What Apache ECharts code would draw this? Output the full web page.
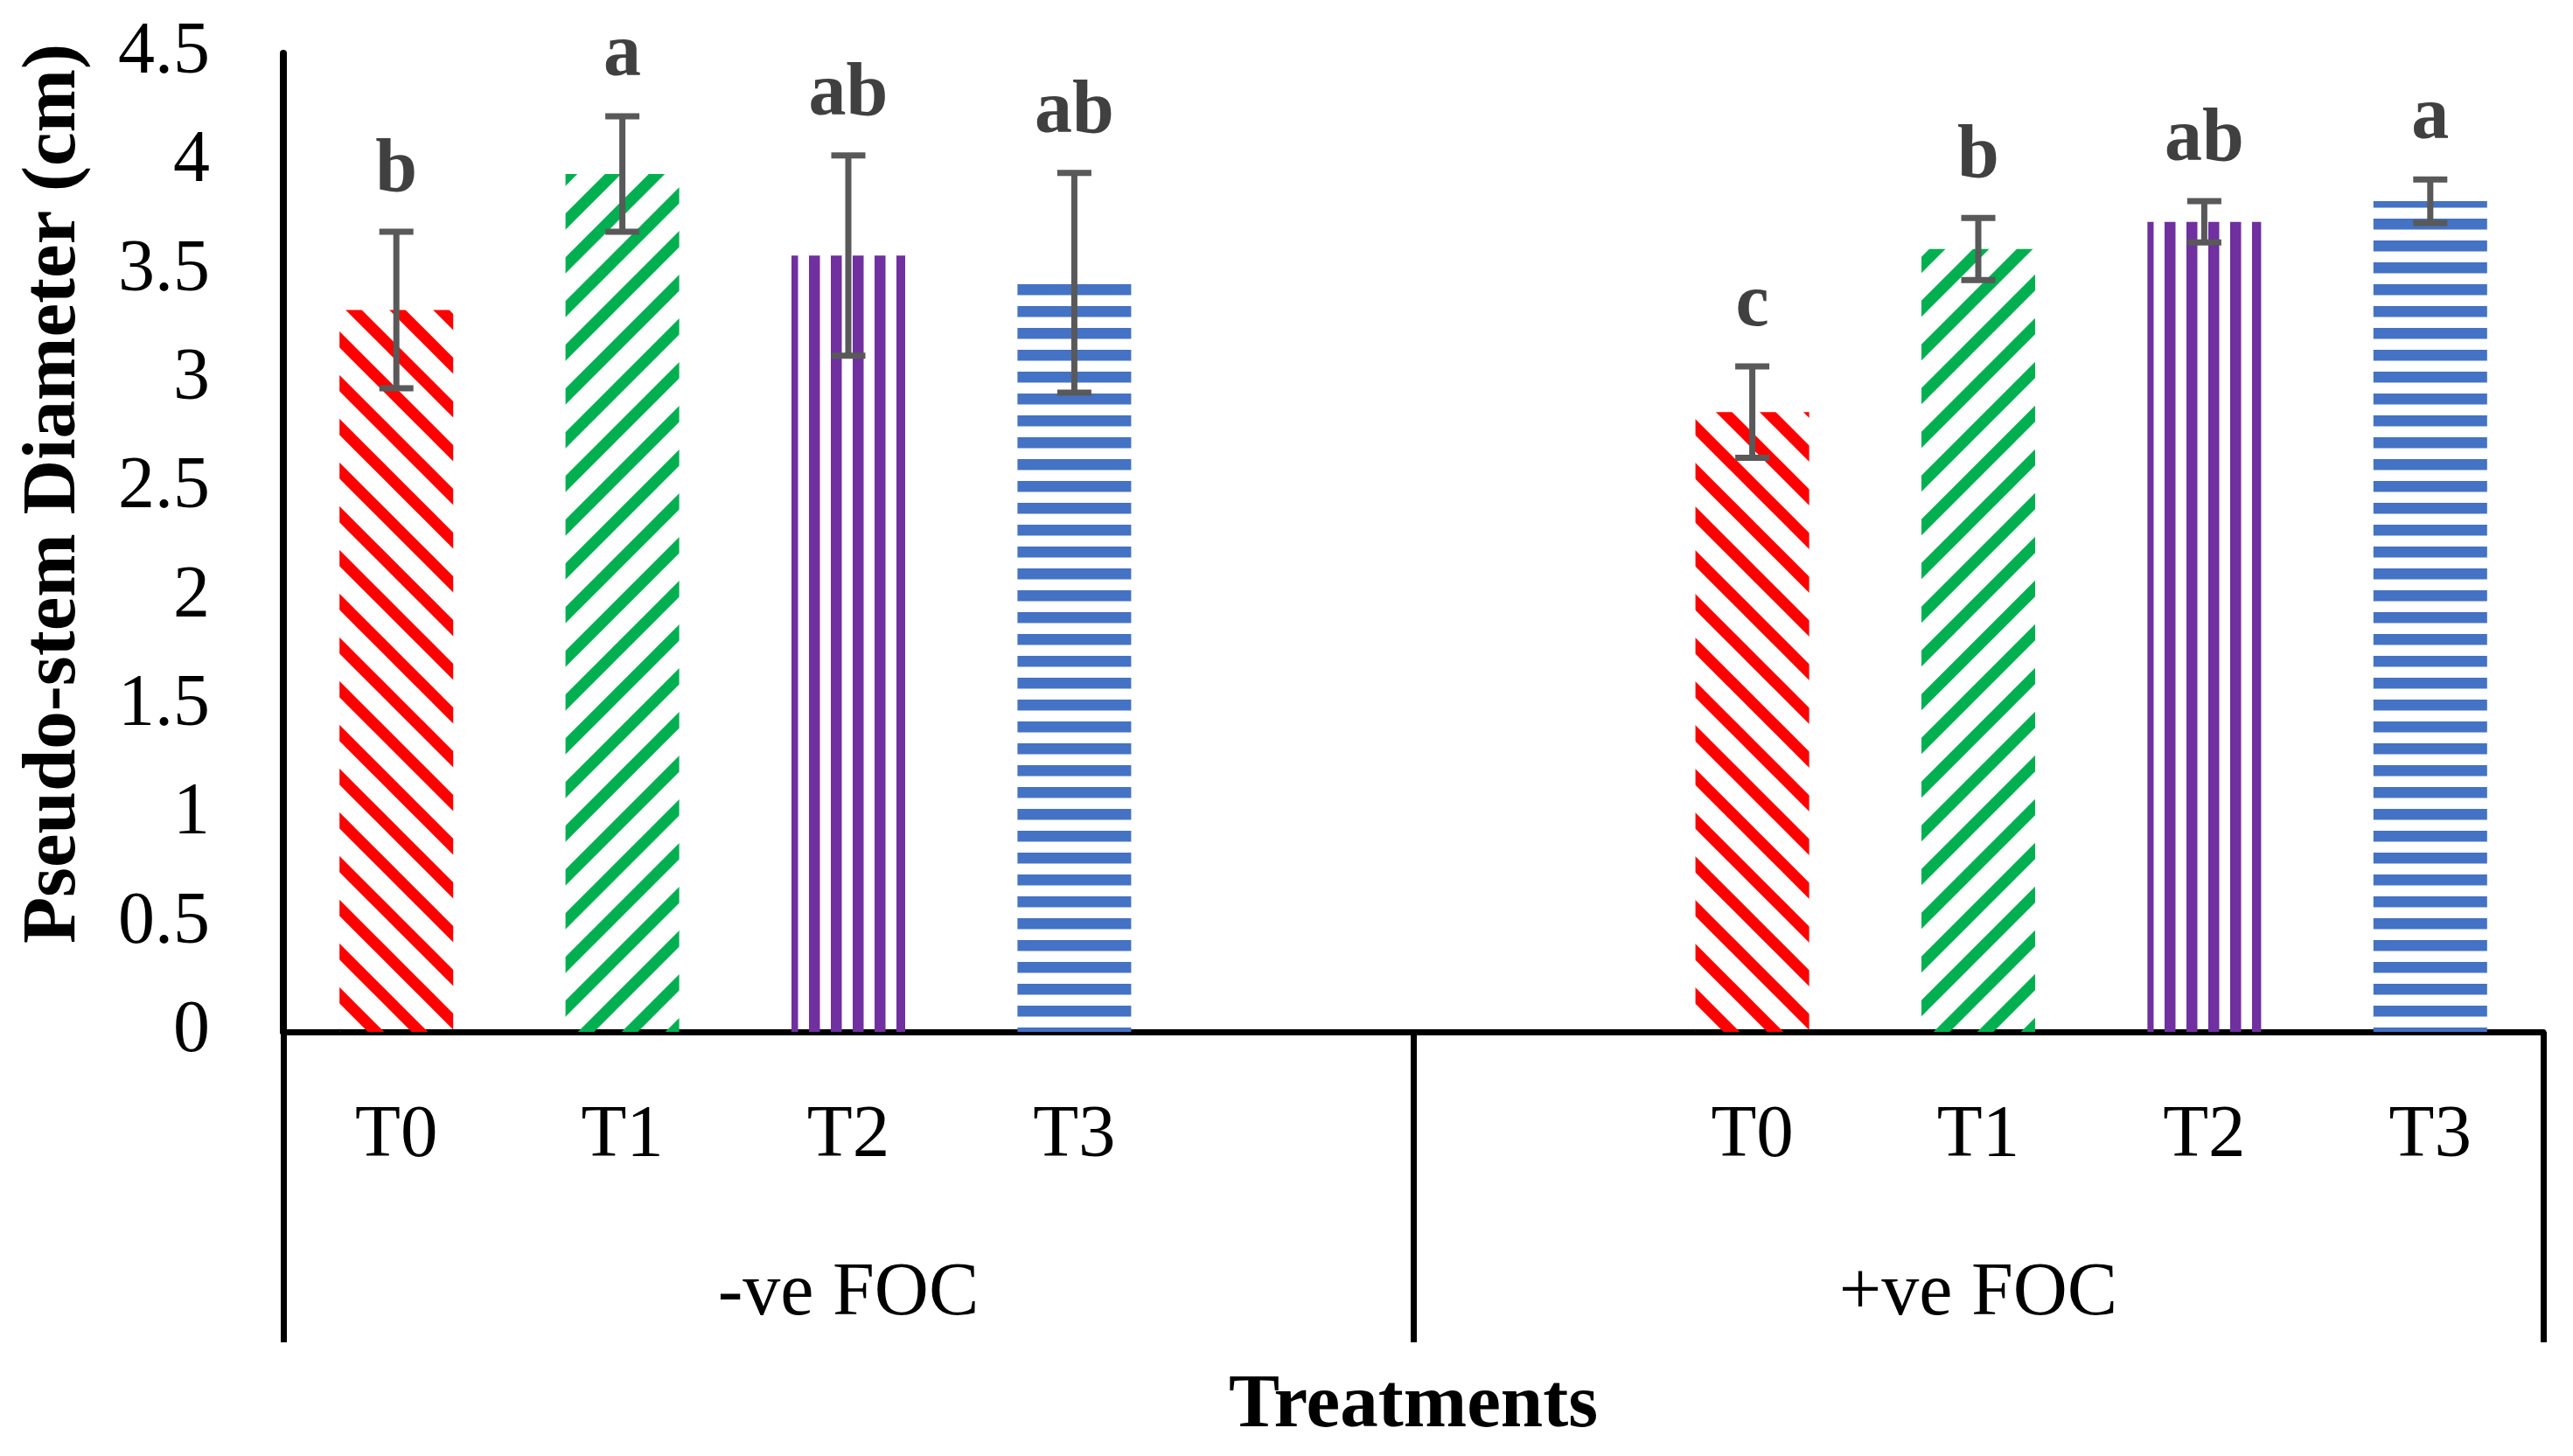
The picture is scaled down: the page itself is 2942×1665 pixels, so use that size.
<!DOCTYPE html>
<html>
<head>
<meta charset="utf-8">
<script src="https://cdn.jsdelivr.net/npm/echarts@6/dist/echarts.min.js"></script>
<style>
html,body{margin:0;padding:0;background:#fff;}
#chart{width:2942px;height:1665px;}
</style>
</head>
<body>
<div id="chart"></div>
<script>
// ---- data ----
const groups = ['-ve FOC', '+ve FOC'];
const treatments = ['T0', 'T1', 'T2', 'T3'];
const negMeans = [3.32, 3.945, 3.57, 3.445];
const negSE = [0.36, 0.265, 0.46, 0.505];
const negLetters = ['b', 'a', 'ab', 'ab'];
const posMeans = [2.85, 3.60, 3.725, 3.82];
const posSE = [0.21, 0.143, 0.095, 0.10];
const posLetters = ['c', 'b', 'ab', 'a'];
const yTicks = [0, 0.5, 1, 1.5, 2, 2.5, 3, 3.5, 4, 4.5];

// ---- patterns ----
const FONT = '"Liberation Serif", "Times New Roman", serif';
function makePattern(kind, color) {
  const c = document.createElement('canvas');
  let s;
  if (kind === 'down' || kind === 'up') {
    s = 50; c.width = s; c.height = s;
    const ctx = c.getContext('2d');
    ctx.strokeStyle = color; ctx.lineWidth = 13; ctx.lineCap = 'square';
    for (let k = -1; k <= 1; k++) {
      ctx.beginPath();
      if (kind === 'down') { ctx.moveTo(-20, -20 + k * s); ctx.lineTo(s + 20, s + 20 + k * s); }
      else { ctx.moveTo(-20, s + 20 + k * s); ctx.lineTo(s + 20, -20 + k * s); }
      ctx.stroke();
    }
  } else if (kind === 'vert') {
    s = 25; c.width = s; c.height = s;
    const ctx = c.getContext('2d');
    ctx.fillStyle = color; ctx.fillRect(0, 0, 12.5, s);
  } else {
    s = 25; c.width = s; c.height = s;
    const ctx = c.getContext('2d');
    ctx.fillStyle = color; ctx.fillRect(0, 0, s, 12.5);
  }
  return { image: c, repeat: 'repeat' };
}
const patterns = [
  makePattern('down', '#FF0000'),
  makePattern('up', '#00B050'),
  makePattern('vert', '#7030A0'),
  makePattern('horiz', '#4472C4')
];

// ---- build slots: 4 treatments + blank, blank + 4 treatments ----
const slots = [];
treatments.forEach((t, i) => slots.push({ label: t, mean: negMeans[i], se: negSE[i], letter: negLetters[i], ti: i }));
slots.push({ label: '' }); slots.push({ label: '' });
treatments.forEach((t, i) => slots.push({ label: t, mean: posMeans[i], se: posSE[i], letter: posLetters[i], ti: i }));

const barData = slots.map(s => s.mean == null ? '-' : { value: s.mean, itemStyle: { color: patterns[s.ti] } });
const errData = [];
const errLetters = [];
slots.forEach((s, i) => { if (s.mean != null) { errData.push([i, s.mean, s.se]); errLetters.push(s.letter); } });

const chart = echarts.init(document.getElementById('chart'), null, { renderer: 'canvas' });
chart.setOption({
  animation: false,
  backgroundColor: '#fff',
  grid: { left: 324, right: 34, top: 61, bottom: 485, containLabel: false },
  xAxis: [
    {
      type: 'category',
      data: slots.map(s => s.label),
      position: 'bottom',
      axisLine: { show: true, lineStyle: { color: '#000', width: 7 } },
      axisTick: { show: false },
      axisLabel: { interval: 0, fontFamily: FONT, fontSize: 85, color: '#000', margin: 77 },
      splitLine: { show: false }
    },
    {
      type: 'category',
      data: groups,
      position: 'bottom',
      axisLine: { show: false },
      axisTick: { show: true, length: 355, lineStyle: { color: '#000', width: 7 } },
      axisLabel: { interval: 0, fontFamily: FONT, fontSize: 86, color: '#000', margin: 257 },
      splitLine: { show: false },
      name: 'Treatments',
      nameLocation: 'middle',
      nameGap: 385,
      nameTextStyle: { fontFamily: FONT, fontSize: 87, fontWeight: 'bold', color: '#000' }
    }
  ],
  yAxis: {
    type: 'value',
    min: 0, max: 4.5, interval: 0.5,
    axisLine: { show: true, lineStyle: { color: '#000', width: 8 } },
    axisTick: { show: false },
    splitLine: { show: false },
    axisLabel: {
      fontFamily: FONT, fontSize: 84, color: '#000', margin: 84,
      formatter: v => String(yTicks.find(t => Math.abs(t - v) < 1e-9) ?? v)
    },
    name: 'Pseudo-stem Diameter (cm)',
    nameLocation: 'middle',
    nameGap: 218,
    nameTextStyle: { fontFamily: FONT, fontSize: 87, fontWeight: 'bold', color: '#000', padding: [0, 0, 0, 112] }
  },
  series: [
    {
      type: 'bar',
      xAxisIndex: 0,
      data: barData,
      barWidth: 130,
      silent: true
    },
    {
      type: 'custom',
      xAxisIndex: 0,
      data: errData,
      silent: true,
      z: 5,
      renderItem: function (params, api) {
        const x = api.value(0), m = api.value(1), s = api.value(2);
        const top = api.coord([x, m + s]);
        const bot = api.coord([x, m - s]);
        const cw = 19.5;
        const st = { stroke: '#595959', lineWidth: 7 };
        return {
          type: 'group',
          children: [
            { type: 'line', shape: { x1: top[0], y1: top[1], x2: bot[0], y2: bot[1] }, style: st },
            { type: 'line', shape: { x1: top[0] - cw, y1: top[1], x2: top[0] + cw, y2: top[1] }, style: st },
            { type: 'line', shape: { x1: bot[0] - cw, y1: bot[1], x2: bot[0] + cw, y2: bot[1] }, style: st },
            { type: 'text', x: top[0], y: top[1] - 26,
              style: { text: errLetters[params.dataIndex], font: 'bold 86px ' + FONT, fill: '#404040', align: 'center', verticalAlign: 'bottom' } }
          ]
        };
      }
    }
  ]
});
</script>
</body>
</html>
